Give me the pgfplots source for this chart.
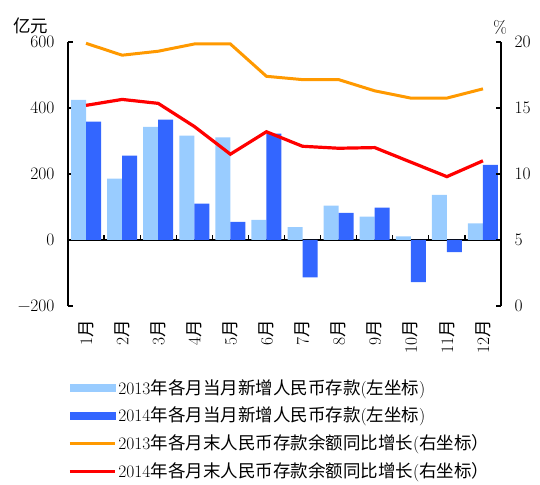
\documentclass[border=0pt]{standalone}
\usepackage{pgfplots}
\pgfplotsset{compat=1.18}
\usepackage{pgfplotstable}
\usepackage{fontspec}
\newfontfamily\cjk{Noto Sans CJK SC}
\definecolor{c13}{HTML}{99CCFF}
\definecolor{c14}{HTML}{3366FF}
\definecolor{o13}{HTML}{FF9900}
\definecolor{r14}{HTML}{FF0000}

\pgfplotstableread{
m d13 d14 g13 g14
1 425 359 19.9 15.2
2 186 256 19.0 15.65
3 343 365 19.3 15.35
4 316 110 19.85 13.6
5 311 55 19.85 11.5
6 61 322 17.4 13.2
7 39 -113 17.15 12.1
8 104 82 17.15 11.95
9 71 98 16.3 12.0
10 11 -128 15.75 10.9
11 137 -37 15.75 9.8
12 50 228 16.45 11.0
}\data

\pgfplotsset{
  every axis/.append style={
    font=\fontsize{17.5}{21}\selectfont,
    at={(68pt,178pt)}, anchor=south west,
    scale only axis, width=433pt, height=264pt,
    xmin=0.5, xmax=12.5,
    axis line style={line width=1.3pt},
    tick style={line width=1.2pt, black},
    major tick length=5pt,
  },
}

\begin{document}
\begin{tikzpicture}
\path[use as bounding box] (0,0) rectangle (540pt,484pt);
% bars
\begin{axis}[
  ymin=-200, ymax=600,
  axis y line*=left, axis x line*=middle,
  ybar=0pt, bar width=15pt,
  xtick={1.5,2.5,...,11.5}, xticklabels={},
  tick align=inside,
  ytick={-200,0,200,400,600},
  yticklabels={−200,0,200,400,600},
  yticklabel style={xshift=-10pt},
  ylabel={\cjk 亿元},
  ylabel style={rotate=-90, at={(rel axis cs:0,1)}, anchor=center, xshift=-37pt, yshift=16pt},
]
\addplot[fill=c13, draw=none] table[x=m,y=d13]{\data};
\addplot[fill=c14, draw=none] table[x=m,y=d14]{\data};
\end{axis}
% lines
\begin{axis}[
  ymin=0, ymax=20,
  axis y line*=right, axis x line=none,
  tick align=inside,
  ytick={0,5,...,20},
  yticklabels={0,5,10,15,20},
  yticklabel style={xshift=10pt},
  ylabel={\%},
  ylabel style={rotate=-90, at={(rel axis cs:1,1)}, anchor=center, xshift=-1pt, yshift=15pt},
]
\addplot[o13, line width=3pt] table[x=m,y=g13]{\data};
\addplot[r14, line width=3.2pt] table[x=m,y=g14]{\data};
\end{axis}
% month labels and legend
\begin{axis}[
  ymin=0, ymax=1,
  axis y line=none, axis x line*=bottom,
  x axis line style={draw=none},
  xtick={1,...,12},
  xticklabels={1{\cjk 月},2{\cjk 月},3{\cjk 月},4{\cjk 月},5{\cjk 月},6{\cjk 月},7{\cjk 月},8{\cjk 月},9{\cjk 月},10{\cjk 月},11{\cjk 月},12{\cjk 月}},
  major tick length=0pt,
  xticklabel style={rotate=90, anchor=east},
  xticklabel shift=10pt,
  legend style={at={(rel axis cs:0,0)}, anchor=north west, xshift=0pt, yshift=-71pt,
    draw=none, fill=none, inner sep=0pt, row sep=7.5pt,
    nodes={inner sep=2pt}},
  legend cell align=left,
]
\addlegendimage{legend image code/.code={\fill[c13] (0pt,-3.5pt) rectangle (45pt,3.5pt);}}
\addlegendentry{2013{\cjk 年各月当月新增人民币存款}({\cjk 左坐标})}
\addlegendimage{legend image code/.code={\fill[c14] (0pt,-3.5pt) rectangle (45pt,3.5pt);}}
\addlegendentry{2014{\cjk 年各月当月新增人民币存款}({\cjk 左坐标})}
\addlegendimage{legend image code/.code={\draw[o13, line width=3pt] (0pt,0pt) -- (45pt,0pt);}}
\addlegendentry{2013{\cjk 年各月末人民币存款余额同比增长}({\cjk 右坐标）}}
\addlegendimage{legend image code/.code={\draw[r14, line width=3.2pt] (0pt,0pt) -- (45pt,0pt);}}
\addlegendentry{2014{\cjk 年各月末人民币存款余额同比增长}({\cjk 右坐标）}}
\end{axis}
\end{tikzpicture}
\end{document}
